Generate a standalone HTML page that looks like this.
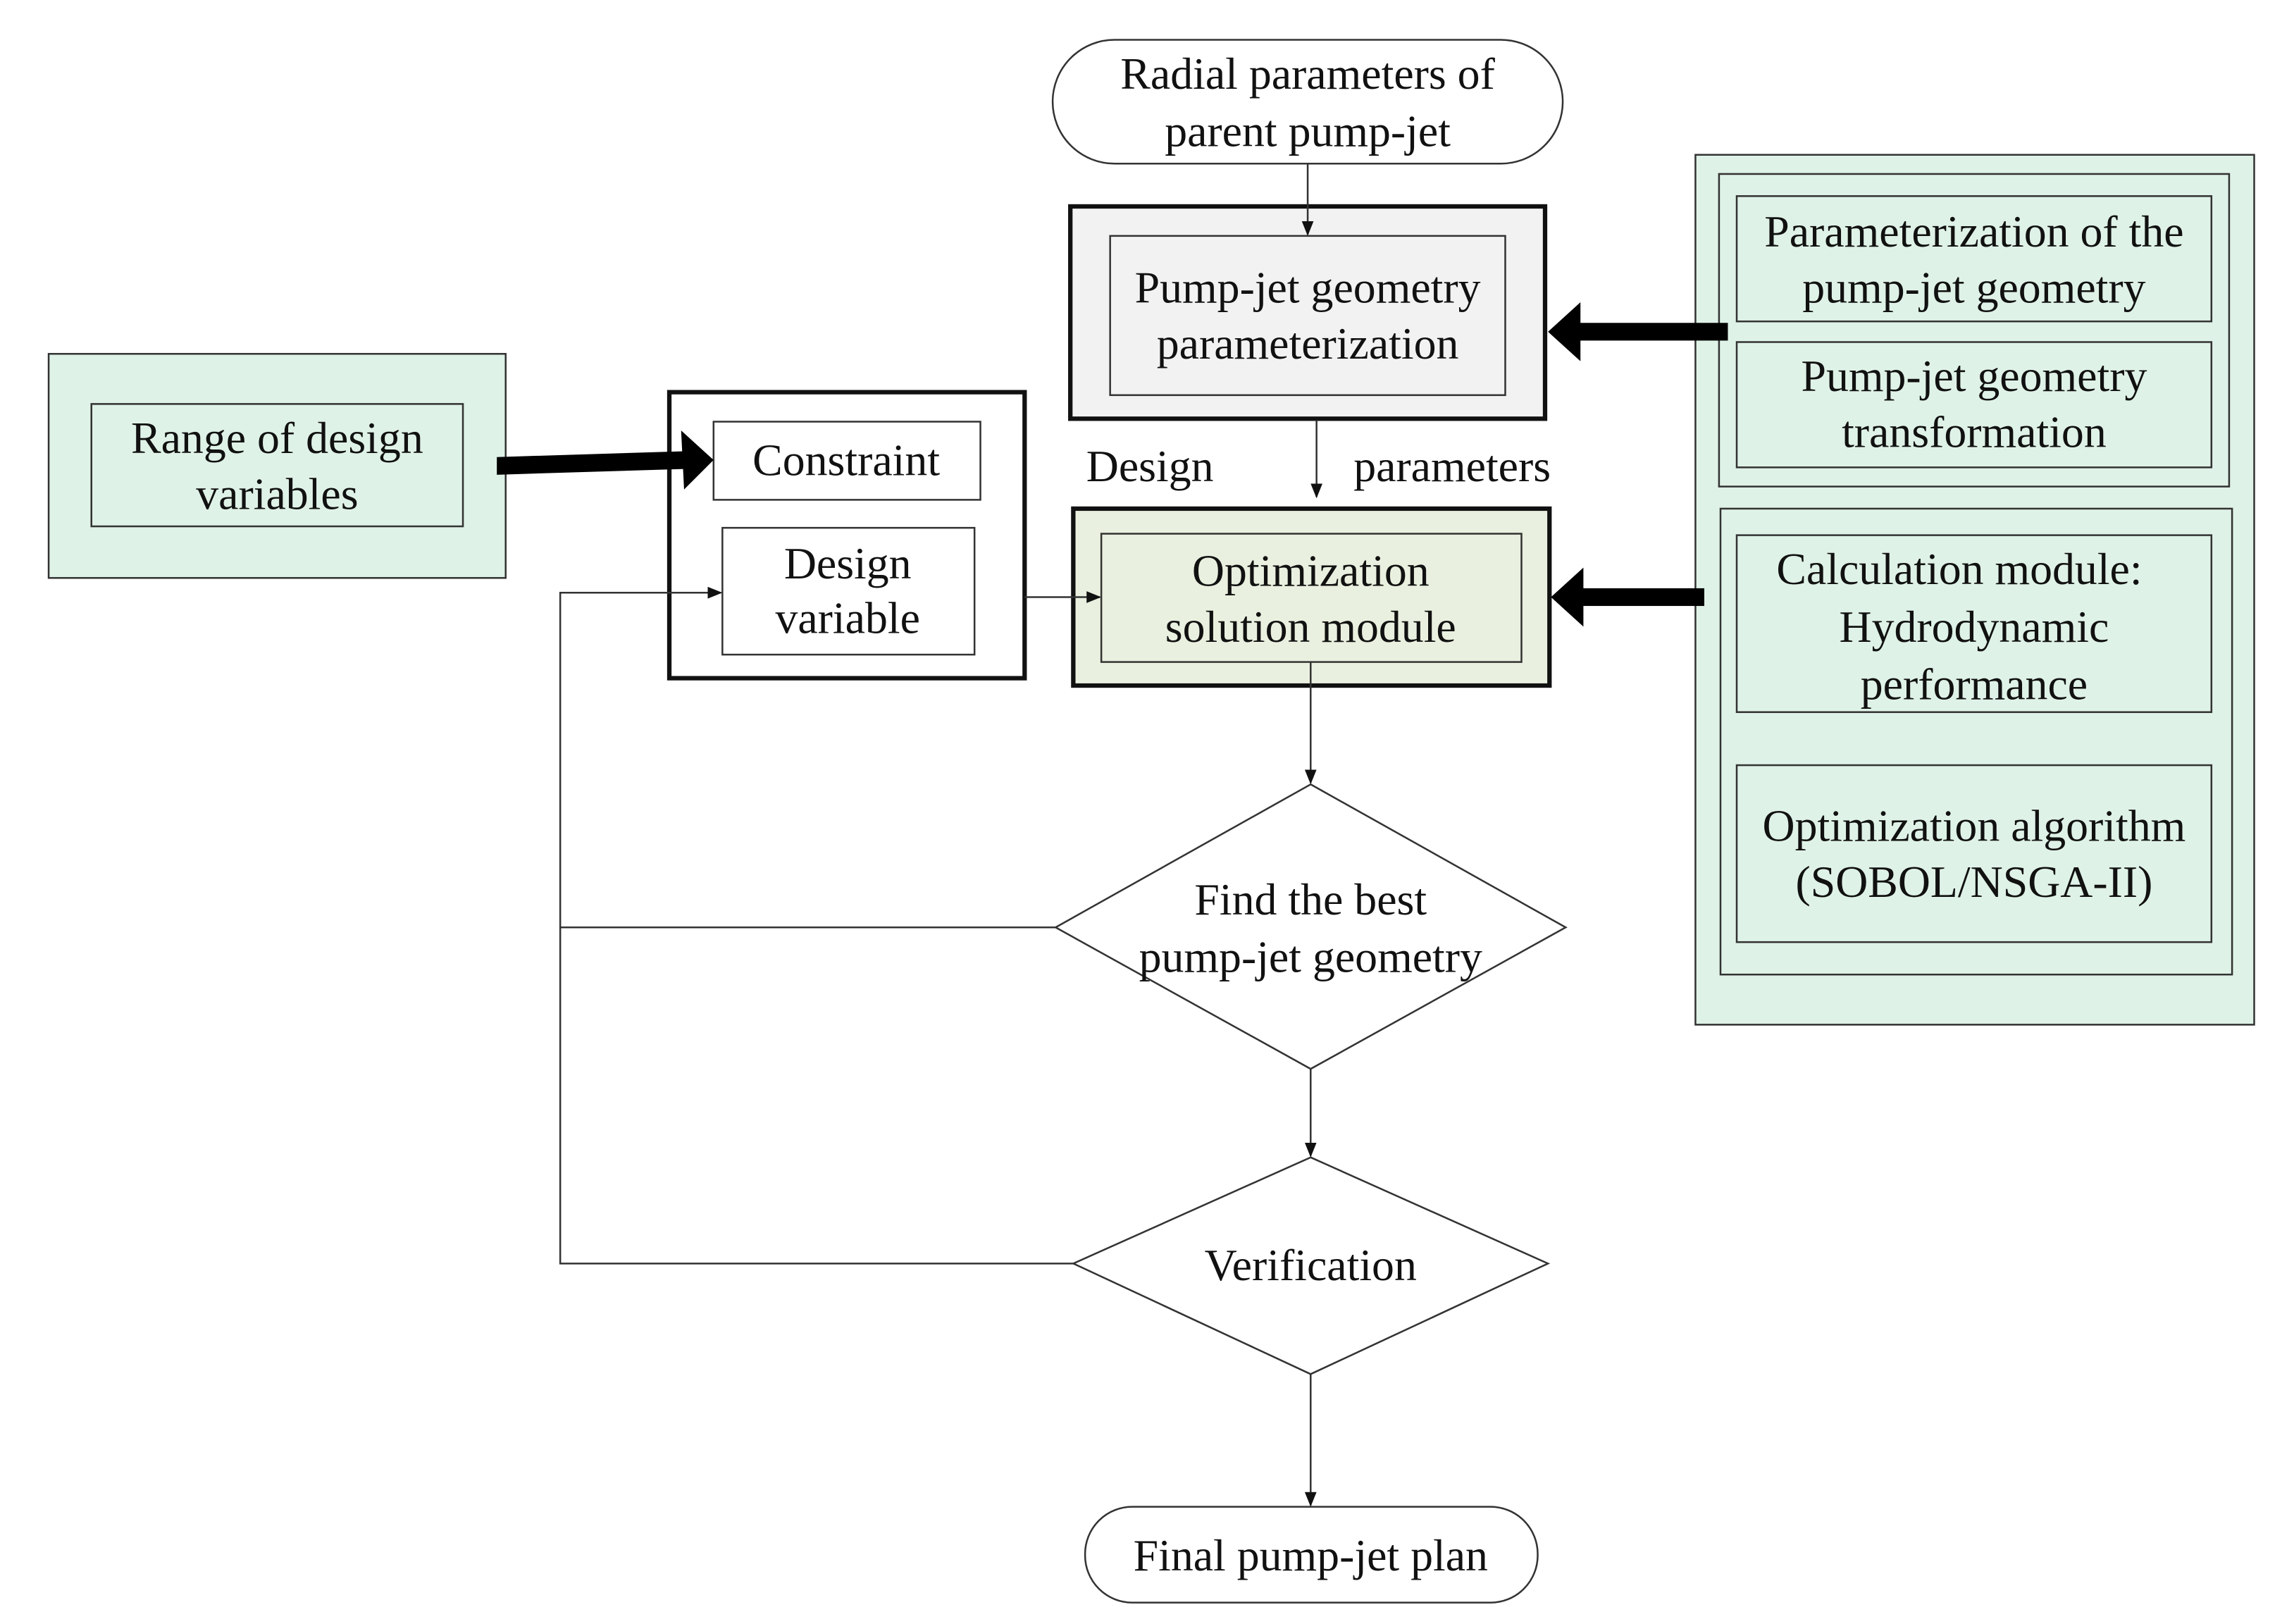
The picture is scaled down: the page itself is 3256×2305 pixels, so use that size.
<!DOCTYPE html>
<html><head><meta charset="utf-8"><style>
html,body{margin:0;padding:0;background:#fff}
svg{display:block}
text{font-family:"Liberation Serif",serif;font-size:30.5px;fill:#111;text-anchor:middle;dominant-baseline:central}
</style></head><body>
<svg width="3256" height="2305" viewBox="0 0 1556 1101.5" preserveAspectRatio="none" xmlns="http://www.w3.org/2000/svg">
<defs>
<marker id="a" markerWidth="10" markerHeight="10" refX="9" refY="5" orient="auto" markerUnits="userSpaceOnUse"><path d="M0,1 L10,5 L0,9 z" fill="#111"/></marker>
</defs>
<g stroke="#333" fill="none" stroke-width="1.2">
<rect x="714" y="27" width="346" height="84" rx="42" fill="#fff"/>
<rect x="726" y="140" width="322" height="144" fill="#f2f2f2" stroke="#111" stroke-width="3"/>
<rect x="753" y="160" width="268" height="108" fill="#f2f2f2"/>
<rect x="1150" y="105" width="379" height="590" fill="#dff2e7"/>
<rect x="1166" y="118" width="346" height="212"/>
<rect x="1178" y="133" width="322" height="85"/>
<rect x="1178" y="232" width="322" height="85"/>
<rect x="1167" y="345" width="347" height="316"/>
<rect x="1178" y="363" width="322" height="120"/>
<rect x="1178" y="519" width="322" height="120"/>
<rect x="33" y="240" width="310" height="152" fill="#dff2e7"/>
<rect x="62" y="274" width="252" height="83"/>
<rect x="454" y="266" width="241" height="194" fill="#fff" stroke="#111" stroke-width="3"/>
<rect x="484" y="286" width="181" height="53"/>
<rect x="490" y="358" width="171" height="86"/>
<rect x="728" y="345" width="323" height="120" fill="#e9f0df" stroke="#111" stroke-width="3"/>
<rect x="747" y="362" width="285" height="87" fill="#e9f0df"/>
<polygon points="889,532 1062,629 889,725 716,629" fill="#fff"/>
<polygon points="889,785 1050,857 889,932 728,857" fill="#fff"/>
<rect x="736" y="1022" width="307" height="65" rx="32" fill="#fff"/>
<line x1="887" y1="111" x2="887" y2="159" marker-end="url(#a)"/>
<line x1="893" y1="285" x2="893" y2="337" marker-end="url(#a)"/>
<line x1="695" y1="405" x2="746" y2="405" marker-end="url(#a)"/>
<polyline points="716,629 380,629"/>
<polyline points="728,857 380,857 380,402 489,402" marker-end="url(#a)"/>
<line x1="889" y1="449" x2="889" y2="531" marker-end="url(#a)"/>
<line x1="889" y1="725" x2="889" y2="784" marker-end="url(#a)"/>
<line x1="889" y1="932" x2="889" y2="1021" marker-end="url(#a)"/>
</g>
<g fill="#000">
<rect x="1070" y="219" width="102" height="12"/>
<polygon points="1050,225 1072,205 1072,245"/>
<rect x="1072" y="399" width="84" height="12"/>
<polygon points="1052,405 1074,385 1074,425"/>
<polygon points="337,310 466,306 466,318 337,322"/>
<polygon points="484,312 462,292 464,332"/>
</g>
<text x="887" y="50">Radial parameters of</text>
<text x="887" y="89">parent pump-jet</text>
<text x="887" y="195">Pump-jet geometry</text>
<text x="887" y="233">parameterization</text>
<text x="1339" y="157">Parameterization of the</text>
<text x="1339" y="195">pump-jet geometry</text>
<text x="1339" y="255">Pump-jet geometry</text>
<text x="1339" y="293">transformation</text>
<text x="1329" y="386">Calculation module:</text>
<text x="1339" y="425">Hydrodynamic</text>
<text x="1339" y="464">performance</text>
<text x="1339" y="560">Optimization algorithm</text>
<text x="1339" y="598">(SOBOL/NSGA-II)</text>
<text x="188" y="297">Range of design</text>
<text x="188" y="335">variables</text>
<text x="574" y="312">Constraint</text>
<text x="575" y="382">Design</text>
<text x="575" y="419">variable</text>
<text x="780" y="316">Design</text>
<text x="985" y="316">parameters</text>
<text x="889" y="387">Optimization</text>
<text x="889" y="425">solution module</text>
<text x="889" y="610">Find the best</text>
<text x="889" y="649">pump-jet geometry</text>
<text x="889" y="858">Verification</text>
<text x="889" y="1055">Final pump-jet plan</text>
</svg>
</body></html>
